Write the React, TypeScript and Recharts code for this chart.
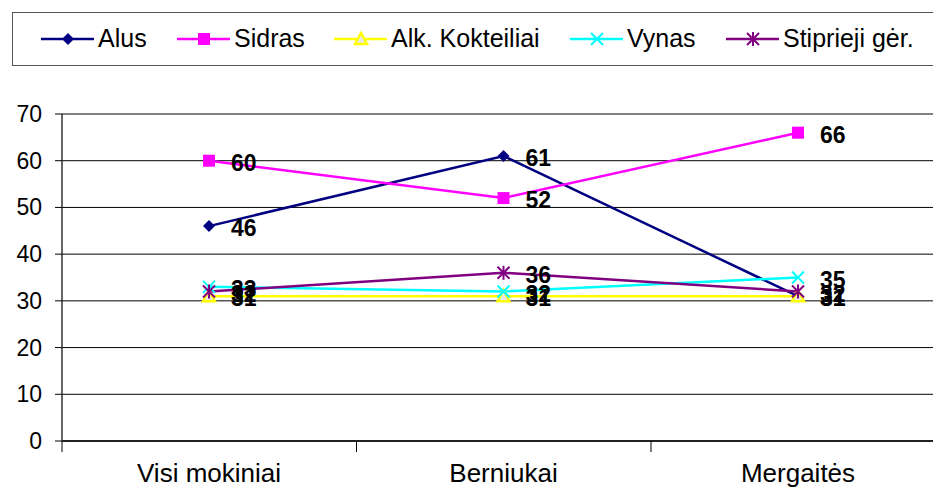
import React from 'react';
import { LineChart, Line, XAxis, YAxis, CartesianGrid, LabelList } from 'recharts';

const categories = ['Visi mokiniai', 'Berniukai', 'Mergaitės'];
const alus = [46, 61, 31];
const sidras = [60, 52, 66];
const kokteiliai = [31, 31, 31];
const vynas = [33, 32, 35];
const stiprieji = [32, 36, 32];
const yTicks = [0, 10, 20, 30, 40, 50, 60, 70];

const data = categories.map((name, i) => ({
    name,
    alus: alus[i],
    sidras: sidras[i],
    kokteiliai: kokteiliai[i],
    vynas: vynas[i],
    stiprieji: stiprieji[i],
}));

const FONT = 'Liberation Sans, Arial, sans-serif';

type MarkerKind = 'diamond' | 'square' | 'triangle' | 'cross' | 'star';

const Marker = ({ kind, cx, cy, color }: { kind: MarkerKind; cx: number; cy: number; color: string }) => {
    switch (kind) {
        case 'diamond':
            return <polygon points={`${cx},${cy - 6} ${cx + 6},${cy} ${cx},${cy + 6} ${cx - 6},${cy}`} fill={color} />;
        case 'square':
            return <rect x={cx - 6} y={cy - 6} width={12} height={12} fill={color} />;
        case 'triangle':
            return (
                <polygon
                    points={`${cx},${cy - 6} ${cx + 6},${cy + 5} ${cx - 6},${cy + 5}`}
                    fill="#e8e8e8"
                    stroke={color}
                    strokeWidth={2.5}
                />
            );
        case 'cross':
            return (
                <g stroke={color} strokeWidth={2}>
                    <line x1={cx - 6} y1={cy - 6} x2={cx + 6} y2={cy + 6} />
                    <line x1={cx - 6} y1={cy + 6} x2={cx + 6} y2={cy - 6} />
                </g>
            );
        default:
            return (
                <g stroke={color} strokeWidth={2}>
                    <line x1={cx - 6} y1={cy - 6} x2={cx + 6} y2={cy + 6} />
                    <line x1={cx - 6} y1={cy + 6} x2={cx + 6} y2={cy - 6} />
                    <line x1={cx} y1={cy - 7} x2={cx} y2={cy + 7} />
                </g>
            );
    }
};

const series: { key: string; name: string; color: string; marker: MarkerKind; legendX: number }[] = [
    { key: 'alus', name: 'Alus', color: '#000080', marker: 'diamond', legendX: 41 },
    { key: 'sidras', name: 'Sidras', color: '#FF00FF', marker: 'square', legendX: 177 },
    { key: 'kokteiliai', name: 'Alk. Kokteiliai', color: '#FFFF00', marker: 'triangle', legendX: 334 },
    { key: 'vynas', name: 'Vynas', color: '#00FFFF', marker: 'cross', legendX: 570 },
    { key: 'stiprieji', name: 'Stiprieji gėr.', color: '#800080', marker: 'star', legendX: 726 },
];

const ValueLabel = (props: any) => {
    const { x, y, value } = props;
    return (
        <text x={x + 22} y={y} dy={10} fontFamily={FONT} fontSize={23} fontWeight="bold" fill="#000">
            {value}
        </text>
    );
};

const CategoryTick = (props: any) => {
    const { x, y, payload } = props;
    return (
        <g>
            <line x1={x - 147} y1={y - 8} x2={x - 147} y2={y + 3} stroke="#000" strokeWidth={1} />
            <text x={x} y={y + 33} textAnchor="middle" fontFamily={FONT} fontSize={26} fill="#000">
                {payload.value}
            </text>
        </g>
    );
};

const ValueTick = (props: any) => {
    const { x, y, payload } = props;
    return (
        <text x={x - 11} y={y} dy={8} textAnchor="end" fontFamily={FONT} fontSize={23} fill="#000">
            {payload.value}
        </text>
    );
};

const Legend = () => (
    <div
        style={{
            position: 'absolute',
            left: 12,
            top: 12,
            width: 960,
            height: 54,
            border: '1.5px solid #555',
            boxSizing: 'border-box',
            fontFamily: FONT,
            fontSize: 25,
        }}
    >
        {series.map((s) => (
            <div
                key={s.key}
                style={{ position: 'absolute', left: s.legendX - 13, top: 0, height: 51, display: 'flex', alignItems: 'center' }}
            >
                <svg width={53} height={20}>
                    <line x1={0} y1={10} x2={53} y2={10} stroke={s.color} strokeWidth={2.5} />
                    <Marker kind={s.marker} cx={27} cy={10} color={s.color} />
                </svg>
                <span style={{ marginLeft: 4, lineHeight: '25px' }}>{s.name}</span>
            </div>
        ))}
    </div>
);

const App: React.FC = () => {
    return (
        <div style={{ position: 'fixed', left: 0, top: 0, width: 933, height: 488, overflow: 'hidden', background: '#fff' }}>
            <Legend />
            <LineChart width={946} height={488} data={data} margin={{ top: 114, right: 0, left: 0, bottom: 0 }}>
                <CartesianGrid vertical={false} stroke="#000" strokeWidth={1} />
                <XAxis
                    dataKey="name"
                    height={47}
                    padding={{ left: 147, right: 148 }}
                    axisLine={{ stroke: '#000', strokeWidth: 1.5 }}
                    tickLine={false}
                    tick={<CategoryTick />}
                    interval={0}
                />
                <YAxis
                    width={62}
                    domain={[0, 70]}
                    ticks={yTicks}
                    interval={0}
                    axisLine={{ stroke: '#333', strokeWidth: 1.5 }}
                    tickLine={{ stroke: '#000' }}
                    tickSize={7}
                    tick={<ValueTick />}
                />
                {series.map((s) => (
                    <Line
                        key={s.key}
                        dataKey={s.key}
                        name={s.name}
                        stroke={s.color}
                        strokeWidth={2.5}
                        isAnimationActive={false}
                        dot={(p: any) => <Marker key={`${s.key}-${p.index}`} kind={s.marker} cx={p.cx} cy={p.cy} color={s.color} />}
                        activeDot={false}
                    >
                        <LabelList dataKey={s.key} content={<ValueLabel />} />
                    </Line>
                ))}
            </LineChart>
        </div>
    );
};

export default App;
